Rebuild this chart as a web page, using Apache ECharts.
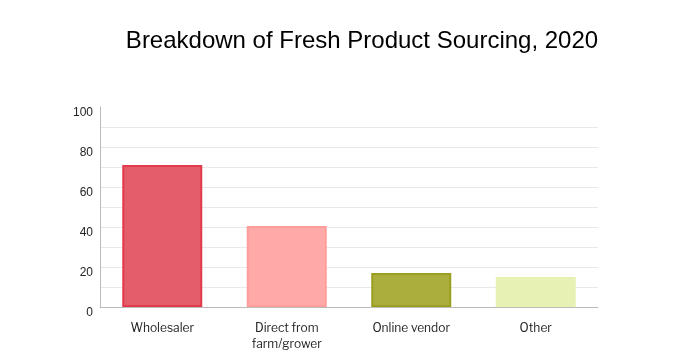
<!DOCTYPE html>
<html><head><meta charset="utf-8">
<script src="https://cdn.jsdelivr.net/npm/echarts@6/dist/echarts.min.js"></script>
<style>html,body{margin:0;padding:0;background:#fff}#c{width:700px;height:360px}</style>
</head><body><div id="c"></div>
<script>
const categories = ['Wholesaler', 'Direct from\nfarm/grower', 'Online vendor', 'Other'];
const values = [71, 40.5, 17, 15];
const fillColors = ['#e35d6b', '#ffaaa8', '#abae3d', '#e8f1b4'];
const borderColors = ['#e23a4d', '#ff9d9a', '#9b9e20', '#e8f1b4'];
const yTicks = [0, 20, 40, 60, 80, 100];

const gridColors = Array.from({length: 11}, (_, i) => i === 10 ? 'rgba(0,0,0,0)' : '#e8e8e8');

const chart = echarts.init(document.getElementById('c'));
chart.setOption({
  animation: false,
  title: {
    text: 'Breakdown of Fresh Product Sourcing, 2020',
    left: 357, top: 24, textAlign: 'center',
    textStyle: {fontFamily: 'Liberation Sans', fontSize: 24, fontWeight: 'normal', color: '#000'}
  },
  grid: {left: 100, right: 102, top: 107, bottom: 53},
  xAxis: {
    type: 'category', data: categories,
    axisLine: {lineStyle: {color: '#bbbbbb'}},
    axisTick: {show: false},
    axisLabel: {margin: 13, fontFamily: 'Libre Franklin, Open Sans, sans-serif', fontSize: 12, color: '#222', lineHeight: 16}
  },
  yAxis: {
    type: 'value', min: 0, max: 100, interval: 10,
    axisLine: {show: true, lineStyle: {color: '#bbbbbb'}},
    axisTick: {show: false},
    splitLine: {lineStyle: {color: gridColors}},
    axisLabel: {
      margin: 7, fontFamily: 'Liberation Sans', fontSize: 12, color: '#222',
      verticalAlign: 'top',
      formatter: v => yTicks.includes(v) ? String(v) : ''
    }
  },
  series: [{
    type: 'bar', barWidth: 80,
    data: values.map((v, i) => ({
      value: v,
      itemStyle: {color: fillColors[i], borderColor: borderColors[i], borderWidth: 2}
    }))
  }]
});
</script></body></html>
